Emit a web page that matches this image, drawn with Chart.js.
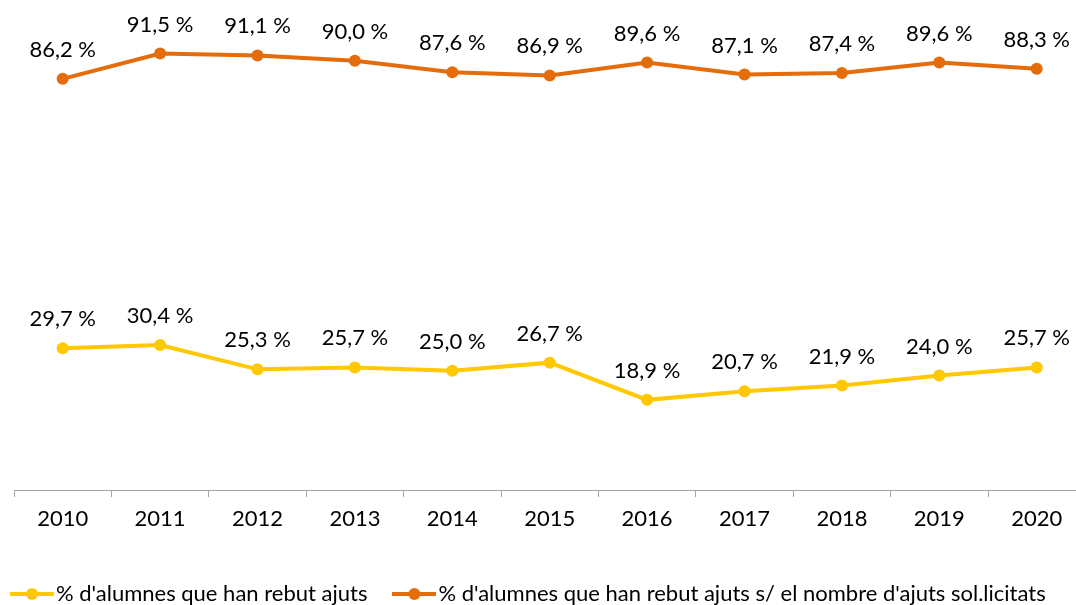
<!DOCTYPE html>
<html>
<head>
<meta charset="utf-8">
<script src="https://cdn.jsdelivr.net/npm/chart.js@4"></script>
<style>
  html, body { margin: 0; padding: 0; background: #fff; overflow: hidden; width: 1076px; height: 605px; }
  #wrap { position: absolute; left: -15px; top: 0; }
</style>
</head>
<body>
<div id="wrap"><canvas id="chart" width="1180" height="615"></canvas></div>
<script>
// ===== DATA =====
const years = ['2010', '2011', '2012', '2013', '2014', '2015', '2016', '2017', '2018', '2019', '2020'];
const rebutAjuts = [29.7, 30.4, 25.3, 25.7, 25.0, 26.7, 18.9, 20.7, 21.9, 24.0, 25.7];
const rebutSobreSol = [86.2, 91.5, 91.1, 90.0, 87.6, 86.9, 89.6, 87.1, 87.4, 89.6, 88.3];
const seriesNames = [
  "% d'alumnes que han rebut ajuts",
  "% d'alumnes que han rebut ajuts s/ el nombre d'ajuts sol.licitats"
];

const FONT = 'Lato, "Liberation Sans", sans-serif';
const FONT_SIZE = 22;
const YELLOW = '#FFC800';
const ORANGE = '#E46C0A';
const GREY = '#A6A6A6';

// legend icon: short line with a dot in the middle
function legendIcon(color) {
  const c = document.createElement('canvas');
  c.width = 44; c.height = 14;
  const g = c.getContext('2d');
  g.strokeStyle = color; g.lineWidth = 4;
  g.beginPath(); g.moveTo(0, 7); g.lineTo(44, 7); g.stroke();
  g.fillStyle = color;
  g.beginPath(); g.arc(22, 7, 6, 0, Math.PI * 2); g.fill();
  return c;
}
const icons = [legendIcon(YELLOW), legendIcon(ORANGE)];

// ===== VALUE LABELS =====
const valueLabels = {
  id: 'valueLabels',
  afterDatasetsDraw(chart) {
    const ctx = chart.ctx;
    ctx.save();
    ctx.font = FONT_SIZE + 'px ' + FONT;
    ctx.fillStyle = '#000';
    ctx.textAlign = 'center';
    ctx.textBaseline = 'alphabetic';
    chart.data.datasets.forEach((ds, i) => {
      chart.getDatasetMeta(i).data.forEach((pt, j) => {
        ctx.fillText(ds.data[j].toFixed(1).replace('.', ',') + ' %', pt.x, pt.y - 22);
      });
    });
    ctx.restore();
  }
};

const hidden = { display: false };

new Chart(document.getElementById('chart'), {
  type: 'line',
  data: {
    labels: years,
    datasets: [
      { label: seriesNames[0], data: rebutAjuts, borderColor: YELLOW, backgroundColor: YELLOW,
        borderWidth: 4, pointRadius: 6, pointBorderWidth: 0, pointBackgroundColor: YELLOW, tension: 0 },
      { label: seriesNames[1], data: rebutSobreSol, borderColor: ORANGE, backgroundColor: ORANGE,
        borderWidth: 4, pointRadius: 6, pointBorderWidth: 0, pointBackgroundColor: ORANGE, tension: 0 }
    ]
  },
  options: {
    responsive: false,
    animation: false,
    devicePixelRatio: 1,
    layout: { padding: { top: 13, left: 0, right: 0, bottom: 0 } },
    plugins: {
      tooltip: { enabled: false },
      legend: {
        position: 'bottom',
        align: 'start',
        labels: {
          usePointStyle: true,
          pointStyleWidth: 26,
          padding: 34,
          color: '#000',
          font: { family: FONT, size: FONT_SIZE },
          generateLabels(chart) {
            return Chart.defaults.plugins.legend.labels.generateLabels(chart)
              .map((it, i) => ({ ...it, pointStyle: icons[i] }));
          }
        }
      }
    },
    scales: {
      x: {
        offset: true,
        grid: { offset: true, drawOnChartArea: false, drawTicks: true, tickLength: 7, color: GREY },
        border: { display: true, color: GREY, width: 1 },
        ticks: { color: '#000', font: { family: FONT, size: FONT_SIZE }, padding: 9, maxRotation: 0, autoSkip: false },
        afterFit(s) { s.height = 59; }
      },
      y: {
        min: 0, max: 100,
        ticks: hidden, grid: hidden, border: hidden,
        afterFit(s) { s.width = 29; }
      },
      yRight: {
        position: 'right',
        ticks: hidden, grid: hidden, border: hidden,
        afterFit(s) { s.width = 79.6; }
      }
    }
  },
  plugins: [valueLabels]
});
</script>
</body>
</html>
